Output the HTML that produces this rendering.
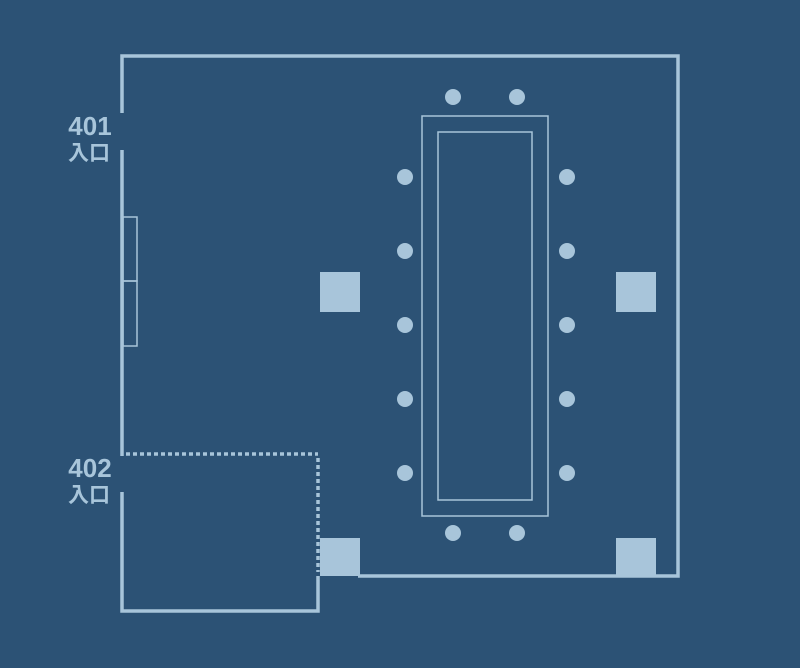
<!DOCTYPE html>
<html><head><meta charset="utf-8"><style>
html,body{margin:0;padding:0;background:#2c5275;}
svg{display:block}
text{font-family:"Liberation Sans","Noto Sans CJK JP",sans-serif;fill:#a8c5da;font-weight:bold;text-anchor:middle}
</style></head><body>
<svg width="800" height="668" viewBox="0 0 800 668">
<rect width="800" height="668" fill="#2c5275"/>
<g stroke="#a8c5da" fill="none" stroke-width="3.5">
<polyline points="122,113 122,56 678,56 678,576 358,576"/>
<line x1="122" y1="150" x2="122" y2="456"/>
<polyline points="122,492 122,611 318,611 318,576"/>
</g>
<g stroke="#a8c5da" fill="none" stroke-width="3.5" stroke-dasharray="4,3">
<line x1="126" y1="454" x2="318" y2="454"/>
<line x1="318" y1="458" x2="318" y2="572"/>
</g>
<g stroke="#a8c5da" fill="none" stroke-width="1.5">
<rect x="123" y="217" width="14" height="64"/>
<rect x="123" y="281" width="14" height="65"/>
<rect x="422" y="116" width="126" height="400"/>
<rect x="438" y="132" width="94" height="368"/>
</g>
<g fill="#a8c5da">
<rect x="320" y="272" width="40" height="40"/>
<rect x="616" y="272" width="40" height="40"/>
<rect x="320" y="538" width="40" height="38"/>
<rect x="616" y="538" width="40" height="38"/>
<circle cx="453" cy="97" r="8"/><circle cx="517" cy="97" r="8"/>
<circle cx="453" cy="533" r="8"/><circle cx="517" cy="533" r="8"/>
<circle cx="405" cy="177" r="8"/><circle cx="405" cy="251" r="8"/><circle cx="405" cy="325" r="8"/><circle cx="405" cy="399" r="8"/><circle cx="405" cy="473" r="8"/>
<circle cx="567" cy="177" r="8"/><circle cx="567" cy="251" r="8"/><circle cx="567" cy="325" r="8"/><circle cx="567" cy="399" r="8"/><circle cx="567" cy="473" r="8"/>
</g>
<text x="90" y="135" font-size="26">401</text>
<text x="89" y="160" font-size="21">入口</text>
<text x="90" y="477" font-size="26">402</text>
<text x="89" y="502" font-size="21">入口</text>
</svg>
</body></html>
